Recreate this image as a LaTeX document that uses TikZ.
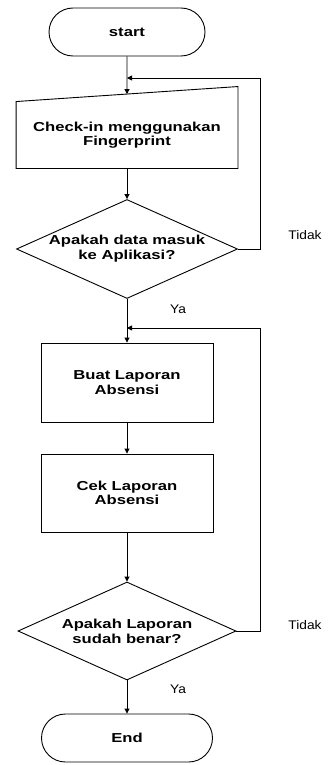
\documentclass[tikz,border=0pt]{standalone}
\usepackage{fontspec}
\setmainfont{Liberation Sans}
\newfontfamily\flowfont[FakeStretch=1.28]{Liberation Sans}
\newfontfamily\notefont[FakeStretch=1.1]{Liberation Sans}
\usetikzlibrary{calc}
\usetikzlibrary{positioning}
\usetikzlibrary{shapes.geometric}
\usetikzlibrary{arrows.meta}
\tikzset{
	>={Triangle[length=5pt,width=5pt]},
	terminal/.style={
		rectangle,
		rounded corners=24pt,
		draw=black,
		minimum height=48pt,
		align=center,
		font=\flowfont\bfseries\fontsize{13}{14.5}\selectfont},
	inputbox/.style={
		rectangle,
		% no draw, the slanted outline is drawn by hand
		minimum width=221pt,
		minimum height=66pt,
		align=center,
		font=\flowfont\bfseries\fontsize{13}{14}\selectfont},
	processbox/.style={
		rectangle,
		draw=black,
		minimum width=172pt,
		minimum height=79pt,
		align=center,
		font=\flowfont\bfseries\fontsize{13}{14.5}\selectfont},
	decision/.style={
		diamond,
		aspect=2.2,
		inner sep=0pt,
		draw=black,
		align=center,
		font=\flowfont\bfseries\fontsize{13}{15}\selectfont},
	note/.style={font=\notefont\fontsize{12.5}{14}\selectfont},
	flow/.style={draw, ->},
}

\begin{document}
\begin{tikzpicture}[x=1pt, y=-1pt, line width=0.9pt]
	\useasboundingbox (0,0) rectangle (329,765);
	\node[terminal, minimum width=156pt] (start) at (127,32) {start};
	\node[inputbox] (check) at (127,135) {Check-in menggunakan\\Fingerprint};
	\draw (check.south west) -- (check.north west) -- ([yshift=15pt]check.north east) -- (check.south east) -- cycle;
	\coordinate (checktop) at ($(check.north west)!0.5!([yshift=15pt]check.north east)$);
	\node[decision, minimum width=221pt, minimum height=99pt] (cekdata) at (127,249) {Apakah data masuk\\ke Aplikasi?};
	\node[processbox] (buat) at (127,382.5) {Buat Laporan\\Absensi};
	\node[processbox, minimum height=78pt] (cek) at (127,493) {Cek Laporan\\Absensi};
	\node[decision, minimum width=218pt, minimum height=98pt] (benar) at (127,631) {Apakah Laporan\\sudah benar?};
	\node[terminal, minimum width=171pt] (end) at (127,738) {End};
	
	\node[note] (tidak1) at (305,235) {Tidak};
	\node[note] (ya1) at (178,309) {Ya};
	\node[note] (tidak2) at (305,625) {Tidak};
	\node[note] (ya2) at (178,689) {Ya};
	
	\coordinate (join1) at (127,78);
	\coordinate (ret1) at (260,78);
	\coordinate (join2) at (127,328);
	\coordinate (ret2) at (260,328);
	
	\path[flow] (start) -- (checktop);
	\path[flow] (check) -- (cekdata);
	\path[flow] (cekdata) -- (buat);
	\path[flow] (buat) -- (cek);
	\path[flow] (cek) -- (benar);
	\path[flow] (benar) -- (end);
	\path[flow] (cekdata.east) -| (ret1) -- (join1);
	\path[flow] (benar.east) -| (ret2) -- (join2);
\end{tikzpicture}
\end{document}
